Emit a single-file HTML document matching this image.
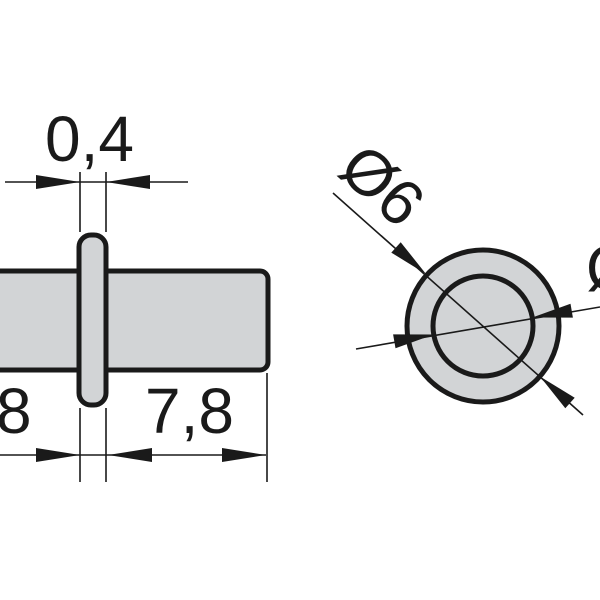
<!DOCTYPE html><html><head><style>body{margin:0;background:#fff}svg{display:block}</style></head><body>
<svg width="600" height="600" viewBox="0 0 600 600" font-family="Liberation Sans, sans-serif">
<rect width="600" height="600" fill="#fff"/>
<g stroke="#1a1a1a" stroke-width="5" fill="#d2d4d6">
<rect x="-10" y="271" width="278" height="99" rx="8"/>
<rect x="79" y="235" width="27" height="170" rx="12"/>
<circle cx="483" cy="326" r="76"/>
<circle cx="483" cy="326" r="50"/>
</g>
<g stroke="#1a1a1a" stroke-width="1.6" fill="none">
<line x1="80" y1="172" x2="80" y2="232"/><line x1="106" y1="172" x2="106" y2="232"/>
<line x1="80" y1="408" x2="80" y2="482"/><line x1="106" y1="408" x2="106" y2="482"/>
<line x1="267" y1="373" x2="267" y2="482"/>
<line x1="5" y1="182" x2="188" y2="182"/>
<line x1="0" y1="455" x2="266" y2="455"/>
<line x1="333" y1="193" x2="583" y2="415"/>
<line x1="356" y1="349" x2="600" y2="307"/>
</g>
<g fill="#1a1a1a">
<polygon points="80,182 36,175 36,189"/><polygon points="106,182 150,175 150,189"/>
<polygon points="80,455 36,448 36,462"/><polygon points="108,455 152,448 152,462"/>
<polygon points="266,455 222,448 222,462"/>
<polygon points="426,274 391.3,252.6 400.7,242.2"/>
<polygon points="540,376.5 565.3,408.2 574.7,397.8"/>
<polygon points="433.7,334.5 395.5,348.2 393.1,334.4"/>
<polygon points="532.3,317.5 572.9,317.6 570.5,303.8"/>
</g>
<g font-size="64" fill="#1a1a1a">
<text x="45" y="161">0,4</text>
<text x="145" y="433">7,8</text>
<text x="-4" y="433">8</text>
<text x="586" y="290">Ø</text>
<text transform="translate(336,173) rotate(42)">Ø6</text>
</g>
</svg></body></html>
